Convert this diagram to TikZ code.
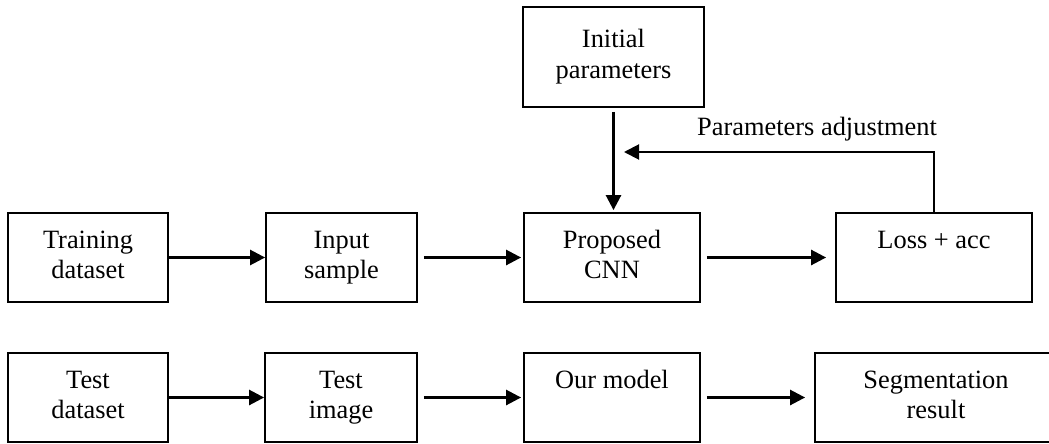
\documentclass[tikz,border=0pt]{standalone}
\usepackage{fontspec}
\setmainfont{Liberation Serif}
\usetikzlibrary{arrows.meta}
\begin{document}
\begin{tikzpicture}[x=0.5pt,y=-0.5pt,
  box/.style={draw, line width=0.9pt, rectangle, inner sep=0pt, align=center,
    minimum height=44.5pt, font=\fontsize{13.2}{15.1}\selectfont},
  flow/.style={line width=1.3pt, -{Triangle[length=7.5pt,width=7.5pt]}},
  fb/.style={line width=1pt, -{Triangle[length=7.5pt,width=7.5pt]}},
  lbl/.style={font=\fontsize{13.2}{15.1}\selectfont, inner sep=0pt}]
\useasboundingbox (0,0) rectangle (1049,444);
\clip (0,0) rectangle (1049,444);
% row 1
\node[box, minimum width=90.5pt, minimum height=50pt] (init) at (613.5,57) {Initial\strut\\parameters\strut};
\node[box, minimum width=80pt] (train) at (88,257.5) {Training\strut\\dataset\strut};
\node[box, minimum width=75.5pt] (input) at (341.5,257.5) {Input\strut\\sample\strut};
\node[box, minimum width=88pt] (cnn) at (612,257.5) {Proposed\strut\\CNN\strut};
\node[box, minimum width=98pt] (loss) at (934,257.5) {Loss + acc\strut\\\strut};
% row 2
\node[box, minimum width=80pt] (testds) at (88,397.5) {Test\strut\\dataset\strut};
\node[box, minimum width=76pt] (testimg) at (341,397.5) {Test\strut\\image\strut};
\node[box, minimum width=88pt] (model) at (612,397.5) {Our model\strut\\\strut};
\node[box, minimum width=121pt] (seg) at (936,397.5) {Segmentation\strut\\result\strut};
% connectors
\draw[flow] (train.east) -- (input.west);
\draw[flow, shorten <=3pt, shorten >=1pt] (input.east) -- (cnn.west);
\draw[flow, shorten <=3pt, shorten >=4.5pt] (cnn.east) -- (loss.west);
\draw[flow] (testds.east) -- (testimg.west);
\draw[flow, shorten <=3pt, shorten >=1pt] (testimg.east) -- (model.west);
\draw[flow, shorten <=3pt, shorten >=4.5pt] (model.east) -- (seg.west);
\draw[flow, shorten <=2pt, shorten >=1pt] (init.south) -- (init.south |- cnn.north);
\coordinate (fbend) at (624,152);
\draw[fb] (loss.north) |- (fbend);
\node[lbl, anchor=base] (adj) at (817,135) {Parameters adjustment};
\end{tikzpicture}
\end{document}
